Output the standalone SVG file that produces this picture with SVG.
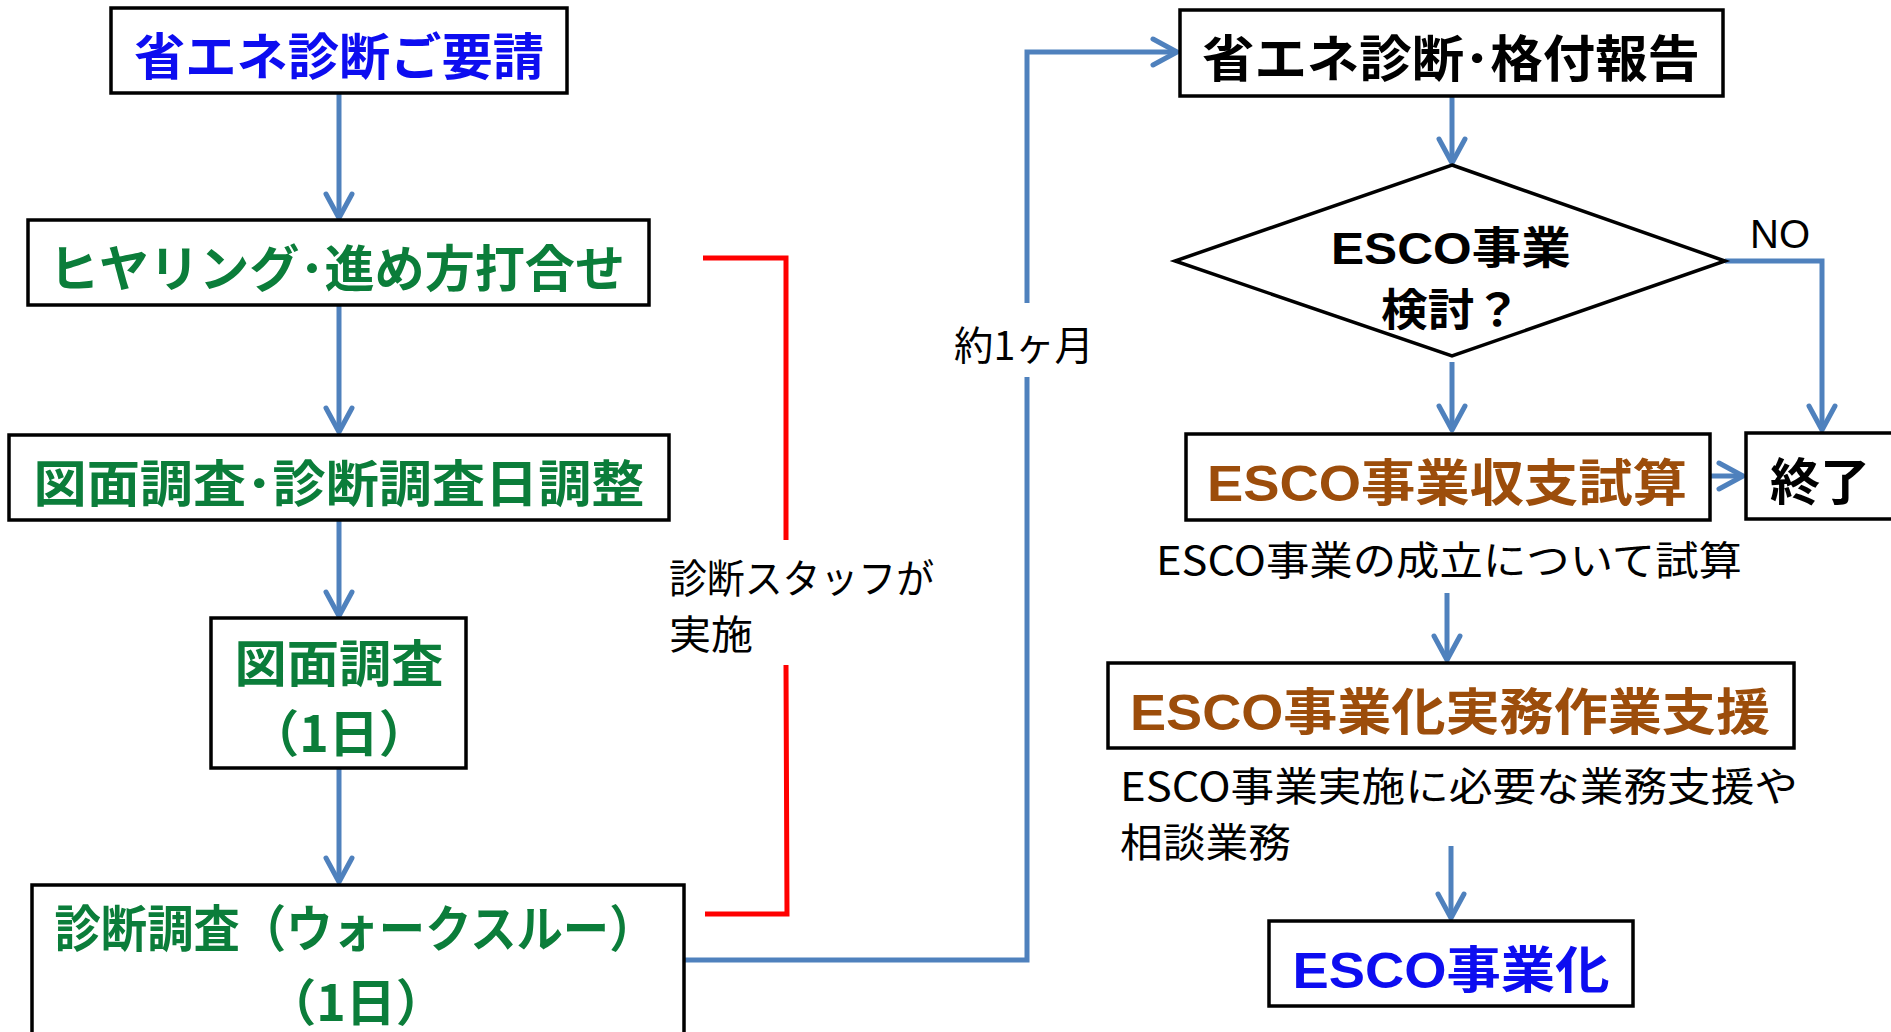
<svg xmlns="http://www.w3.org/2000/svg" width="1891" height="1032" viewBox="0 0 1891 1032">
<style>
.box{fill:#fff;stroke:#000;stroke-width:3.5}
.con{fill:none;stroke:#4F81BD;stroke-width:5}
.red{fill:none;stroke:#FF0000;stroke-width:5}
.b{font-family:"Noto Sans CJK JP","Noto Sans",sans-serif;font-weight:bold;font-size:50px;text-anchor:middle}
.n{font-family:"Noto Sans CJK JP","Noto Sans",sans-serif;font-size:40px;fill:#000}
.lat{font-family:"Liberation Sans",Arial,sans-serif}
.blue{fill:#0D0DF0}.green{fill:#0B7D3A}.brown{fill:#9C4D0B}.blk{fill:#000}
</style>
<defs>
<marker id="ah" markerUnits="userSpaceOnUse" markerWidth="40" markerHeight="40" viewBox="-30 -20 40 40" refX="0" refY="0" orient="auto" overflow="visible">
<path d="M-24,-13 L0,0 L-24,13" fill="none" stroke="#4F81BD" stroke-width="5" stroke-linecap="round" stroke-linejoin="round"/>
</marker>
</defs>
<rect width="1891" height="1032" fill="#fff"/>

<g id="connectors">
<line class="con" x1="339" y1="93" x2="339" y2="218" marker-end="url(#ah)"/>
<line class="con" x1="339" y1="305" x2="339" y2="432" marker-end="url(#ah)"/>
<line class="con" x1="339" y1="520" x2="339" y2="616" marker-end="url(#ah)"/>
<line class="con" x1="339" y1="768" x2="339" y2="882" marker-end="url(#ah)"/>
<polyline class="con" points="684,960 1027,960 1027,377"/>
<polyline class="con" points="1027,303 1027,52 1177,52" marker-end="url(#ah)"/>
<line class="con" x1="1452" y1="96" x2="1452" y2="163" marker-end="url(#ah)"/>
<line class="con" x1="1452" y1="362" x2="1452" y2="430" marker-end="url(#ah)"/>
<polyline class="con" points="1725,261 1822,261 1822,430" marker-end="url(#ah)"/>
<line class="con" x1="1710" y1="476" x2="1743" y2="476" marker-end="url(#ah)"/>
<line class="con" x1="1447" y1="593" x2="1447" y2="660" marker-end="url(#ah)"/>
<line class="con" x1="1451" y1="846" x2="1451" y2="918" marker-end="url(#ah)"/>
<polyline class="red" points="703,258 786,258 786,540"/>
<polyline class="red" points="786,665 787,914 705,914"/>
</g>

<g id="n1"><rect class="box" x="111" y="8" width="456" height="85"/>
<text class="b blue" x="339" y="75" textLength="410" lengthAdjust="spacingAndGlyphs">省エネ診断ご要請</text></g>
<g id="n2"><rect class="box" x="28" y="220" width="621" height="85"/>
<text class="b green" x="337" y="287" textLength="576" lengthAdjust="spacingAndGlyphs">ヒヤリング･進め方打合せ</text></g>
<g id="n3"><rect class="box" x="9" y="435" width="660" height="85"/>
<text class="b green" x="339" y="502" textLength="611" lengthAdjust="spacingAndGlyphs">図面調査･診断調査日調整</text></g>
<g id="n4"><rect class="box" x="211" y="618" width="255" height="150"/>
<text class="b green" x="339" y="682" textLength="209" lengthAdjust="spacingAndGlyphs">図面調査</text>
<text class="b green" x="339" y="752">（1日）</text></g>
<g id="n5"><rect class="box" x="32" y="885" width="652" height="170"/>
<text class="b green" x="355" y="947" textLength="601" lengthAdjust="spacingAndGlyphs">診断調査（ウォークスルー）</text>
<text class="b green" x="356" y="1021">（1日）</text></g>

<g id="label-staff">
<text class="n" x="669" y="593" textLength="265" lengthAdjust="spacingAndGlyphs">診断スタッフが</text>
<text class="n" x="669" y="649" textLength="84" lengthAdjust="spacingAndGlyphs">実施</text></g>
<g id="label-month"><text class="n" x="954" y="360" textLength="140" lengthAdjust="spacingAndGlyphs">約1ヶ月</text></g>

<g id="n6"><rect class="box" x="1180" y="10" width="543" height="86"/>
<text class="b blk" x="1451" y="77" textLength="498" lengthAdjust="spacingAndGlyphs">省エネ診断･格付報告</text></g>
<g id="n7"><polygon class="box" points="1452,165 1725,261 1452,356 1175,261"/>
<text class="b blk" style="font-size:44px" x="1451" y="264" textLength="240" lengthAdjust="spacingAndGlyphs"><tspan class="lat">ESCO</tspan>事業</text>
<text class="b blk" style="font-size:44px" x="1451" y="326" textLength="140" lengthAdjust="spacingAndGlyphs">検討？</text></g>
<g id="label-no"><text class="lat" x="1750" y="248" font-size="40" fill="#000">NO</text></g>
<g id="n8"><rect class="box" x="1186" y="434" width="524" height="86"/>
<text class="b brown" x="1447" y="501" textLength="480" lengthAdjust="spacingAndGlyphs"><tspan class="lat">ESCO</tspan>事業収支試算</text></g>
<g id="n9"><rect class="box" x="1746" y="433" width="170" height="86"/>
<text class="b blk" x="1820" y="500">終了</text></g>
<g id="note1"><text class="n" x="1156" y="575" textLength="586" lengthAdjust="spacingAndGlyphs">ESCO事業の成立について試算</text></g>
<g id="n10"><rect class="box" x="1108" y="663" width="686" height="85"/>
<text class="b brown" x="1450" y="730" textLength="640" lengthAdjust="spacingAndGlyphs"><tspan class="lat">ESCO</tspan>事業化実務作業支援</text></g>
<g id="note2">
<text class="n" x="1120" y="801" textLength="678" lengthAdjust="spacingAndGlyphs">ESCO事業実施に必要な業務支援や</text>
<text class="n" x="1120" y="857" textLength="171" lengthAdjust="spacingAndGlyphs">相談業務</text></g>
<g id="n11"><rect class="box" x="1269" y="921" width="364" height="85"/>
<text class="b blue" x="1451" y="988" textLength="317" lengthAdjust="spacingAndGlyphs"><tspan class="lat">ESCO</tspan>事業化</text></g>
</svg>
